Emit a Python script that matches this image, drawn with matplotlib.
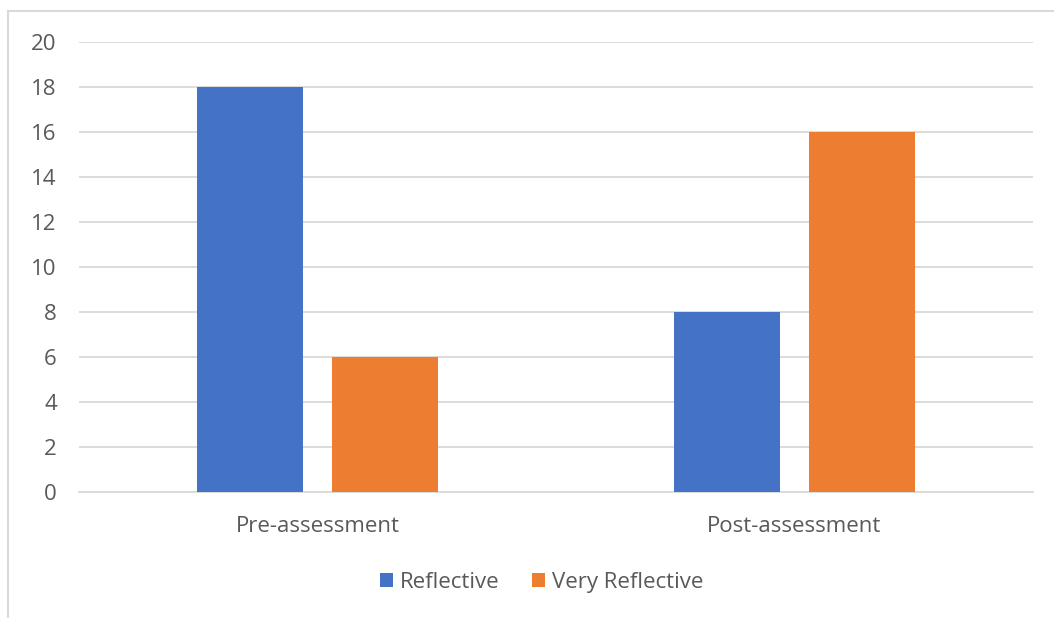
import matplotlib
matplotlib.use("Agg")
import matplotlib.pyplot as plt
import numpy as np
from matplotlib.patches import Rectangle

# data
categories = ["Pre-assessment", "Post-assessment"]
reflective = [18, 8]
very_reflective = [6, 16]
series_names = ["Reflective", "Very Reflective"]

BLUE = "#4472c4"
ORANGE = "#ed7d31"
TEXT = "#595959"
GRID = "#d9d9d9"
FS = 16

plt.rcParams["font.family"] = ["Open Sans", "DejaVu Sans"]

fig = plt.figure(figsize=(10.54, 6.18), dpi=100)
ax = fig.add_axes([0.075, 0.2039, 0.905, 0.7282])

x = np.arange(len(categories))
width = 0.224
offset = 0.1415
ax.bar(x - offset, reflective, width, color=BLUE, label=series_names[0], zorder=3)
ax.bar(x + offset, very_reflective, width, color=ORANGE, label=series_names[1], zorder=3)

ax.set_xlim(-0.5, len(categories) - 0.5)
ax.set_ylim(0, 20)
ax.set_yticks(np.arange(0, 21, 2))
ax.set_xticks(x)
ax.set_xticklabels(categories)
ax.yaxis.grid(True, color=GRID, linewidth=1.3, zorder=0)
ax.set_axisbelow(True)
for s in ax.spines.values():
    s.set_visible(False)
ax.spines["bottom"].set_visible(True)
ax.spines["bottom"].set_color(GRID)
ax.spines["bottom"].set_linewidth(1.3)
ax.tick_params(axis="y", length=0, pad=16, labelsize=FS, labelcolor=TEXT)
ax.tick_params(axis="x", length=0, pad=17, labelsize=FS, labelcolor=TEXT)

leg = fig.legend(loc="center", bbox_to_anchor=(0.514, 0.058), ncol=2, frameon=False,
                 fontsize=FS, handlelength=0.6, handleheight=0.6, handletextpad=0.3,
                 columnspacing=1.45)
for t in leg.get_texts():
    t.set_color(TEXT)

# chart border (only left/top visible in the crop)
fig.patches.append(Rectangle((8 / 1054, -0.05), 1.1, 1 - 11 / 618 + 0.05,
                             transform=fig.transFigure, fill=False,
                             edgecolor=GRID, linewidth=1.5))

fig.savefig("out.png", dpi=100)
